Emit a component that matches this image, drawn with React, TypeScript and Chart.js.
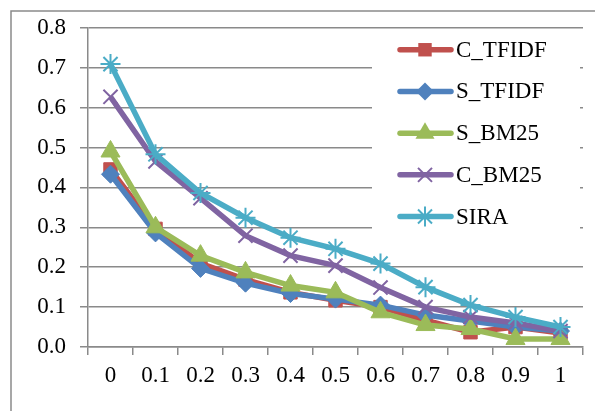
import React, { useEffect, useRef } from "react";
import { Chart, registerables } from "chart.js";

Chart.register(...registerables);

const categories = ["0", "0.1", "0.2", "0.3", "0.4", "0.5", "0.6", "0.7", "0.8", "0.9", "1"];
const seriesNames = ["C_TFIDF", "S_TFIDF", "S_BM25", "C_BM25", "SIRA"];
const cTfidf = [0.445, 0.296, 0.21, 0.169, 0.137, 0.117, 0.1, 0.067, 0.037, 0.05, 0.035];
const sTfidf = [0.433, 0.286, 0.197, 0.16, 0.134, 0.12, 0.105, 0.08, 0.065, 0.05, 0.04];
const sBm25 = [0.49, 0.3, 0.229, 0.187, 0.154, 0.137, 0.087, 0.055, 0.045, 0.02, 0.02];
const cBm25 = [0.627, 0.465, 0.373, 0.279, 0.229, 0.204, 0.149, 0.1, 0.075, 0.06, 0.04];
const sira = [0.709, 0.483, 0.386, 0.324, 0.274, 0.246, 0.209, 0.15, 0.105, 0.075, 0.05];
const yTicks = [0, 0.1, 0.2, 0.3, 0.4, 0.5, 0.6, 0.7, 0.8];

const colors = ["#C0504D", "#4F81BD", "#9BBB59", "#8064A2", "#4BACC6"];
const markers = ["rect", "rectRot", "triangle", "crossRot", "star"];
const markerRadius = [9.5, 9, 11, 10, 10];
const seriesData = [cTfidf, sTfidf, sBm25, cBm25, sira];

const FONT = "'Liberation Serif', 'Times New Roman', serif";
const FONT_SIZE = 23;

function drawMarker(ctx: CanvasRenderingContext2D, style: string, r: number, x: number, y: number) {
  ctx.beginPath();
  if (style === "rect") {
    const s = r * Math.SQRT1_2 * 2;
    ctx.rect(x - s / 2, y - s / 2, s, s);
    ctx.fill();
  } else if (style === "rectRot") {
    ctx.moveTo(x, y - r);
    ctx.lineTo(x + r, y);
    ctx.lineTo(x, y + r);
    ctx.lineTo(x - r, y);
    ctx.closePath();
    ctx.fill();
  } else if (style === "triangle") {
    ctx.moveTo(x, y - r);
    ctx.lineTo(x + r * 0.866, y + r * 0.5);
    ctx.lineTo(x - r * 0.866, y + r * 0.5);
    ctx.closePath();
    ctx.fill();
  } else if (style === "crossRot") {
    const d = r * 0.7;
    ctx.moveTo(x - d, y - d);
    ctx.lineTo(x + d, y + d);
    ctx.moveTo(x + d, y - d);
    ctx.lineTo(x - d, y + d);
    ctx.stroke();
  } else if (style === "star") {
    const d = r * 0.7;
    ctx.moveTo(x - d, y - d);
    ctx.lineTo(x + d, y + d);
    ctx.moveTo(x + d, y - d);
    ctx.lineTo(x - d, y + d);
    ctx.moveTo(x, y - r);
    ctx.lineTo(x, y + r);
    ctx.stroke();
  }
}

const decorPlugin = {
  id: "decor",
  beforeDraw(chart: any) {
    const ctx = chart.ctx;
    ctx.save();
    ctx.fillStyle = "#ffffff";
    ctx.fillRect(0, 0, chart.width, chart.height);
    ctx.strokeStyle = "#8a8a8a";
    ctx.lineWidth = 1.5;
    ctx.beginPath();
    ctx.moveTo(11, chart.height + 2);
    ctx.lineTo(11, 11);
    ctx.lineTo(chart.width + 2, 11);
    ctx.stroke();
    ctx.restore();
  },
  beforeDatasetsDraw(chart: any) {
    const ctx = chart.ctx;
    const yScale = chart.scales.y;
    ctx.save();
    const top = yScale.getPixelForValue(0.8) + 1.5;
    const boxBottom = yScale.getPixelForValue(0.26);
    ctx.fillStyle = "#ffffff";
    ctx.fillRect(372, top, 208, boxBottom - top);
    const y0 = yScale.getPixelForValue(0.745);
    seriesNames.forEach((name, i) => {
      const y = y0 + i * 41.7;
      ctx.strokeStyle = colors[i];
      ctx.lineWidth = 5.5;
      ctx.lineCap = "round";
      ctx.beginPath();
      ctx.moveTo(400, y);
      ctx.lineTo(451, y);
      ctx.stroke();
      const style = markers[i];
      const filled = style === "rect" || style === "rectRot" || style === "triangle";
      ctx.fillStyle = colors[i];
      ctx.strokeStyle = colors[i];
      ctx.lineWidth = filled ? 1 : 2;
      ctx.lineCap = "butt";
      drawMarker(ctx, style, markerRadius[i], 425, y);
      ctx.fillStyle = "#000000";
      ctx.font = `${FONT_SIZE}px ${FONT}`;
      ctx.textBaseline = "middle";
      ctx.textAlign = "left";
      ctx.fillText(name, 456, y + 1);
    });
    ctx.restore();
  },
};

export default function App() {
  const canvasRef = useRef<HTMLCanvasElement | null>(null);

  useEffect(() => {
    if (!canvasRef.current) return;
    const datasets = seriesNames.map((name, i) => ({
      label: name,
      data: seriesData[i],
      borderColor: colors[i],
      backgroundColor: colors[i],
      borderWidth: 5.5,
      pointStyle: markers[i] as any,
      pointRadius: markerRadius[i],
      pointBorderWidth: markers[i] === "crossRot" || markers[i] === "star" ? 2 : 1,
      pointBackgroundColor: colors[i],
      pointBorderColor: colors[i],
      tension: 0,
      order: seriesNames.length - i,
    }));
    const chart = new Chart(canvasRef.current, {
      type: "line",
      data: { labels: categories, datasets },
      options: {
        animation: false,
        responsive: false,
        maintainAspectRatio: false,
        layout: { padding: { left: 10, top: 25, right: 7, bottom: 10 } },
        plugins: { legend: { display: false }, tooltip: { enabled: false } },
        scales: {
          x: {
            type: "category",
            offset: true,
            afterFit: (s: any) => {
              s.height = 54;
            },
            grid: {
              offset: true,
              drawOnChartArea: false,
              drawTicks: true,
              tickLength: 8,
              color: "#8a8a8a",
              lineWidth: 1.5,
            },
            border: { display: true, color: "#8a8a8a", width: 1.5 },
            ticks: {
              color: "#000000",
              font: { family: FONT, size: FONT_SIZE },
              padding: 7,
              maxRotation: 0,
              autoSkip: false,
            },
          },
          y: {
            min: 0,
            max: 0.8,
            afterFit: (s: any) => {
              s.width = 78;
            },
            afterBuildTicks: (s: any) => {
              s.ticks = yTicks.map((v) => ({ value: v }));
            },
            grid: {
              color: "#8a8a8a",
              lineWidth: 1.5,
              drawTicks: true,
              tickLength: 8,
            },
            border: { display: true, color: "#8a8a8a", width: 1.5 },
            ticks: {
              color: "#000000",
              font: { family: FONT, size: FONT_SIZE },
              padding: 14,
              callback: (v: any) => Number(v).toFixed(1),
            },
          },
        },
      },
      plugins: [decorPlugin],
    });
    return () => chart.destroy();
  }, []);

  return (
    <div style={{ position: "fixed", left: 0, top: 0, width: 595, height: 411, background: "#fff" }}>
      <canvas ref={canvasRef} width={595} height={411} style={{ display: "block" }} />
    </div>
  );
}
